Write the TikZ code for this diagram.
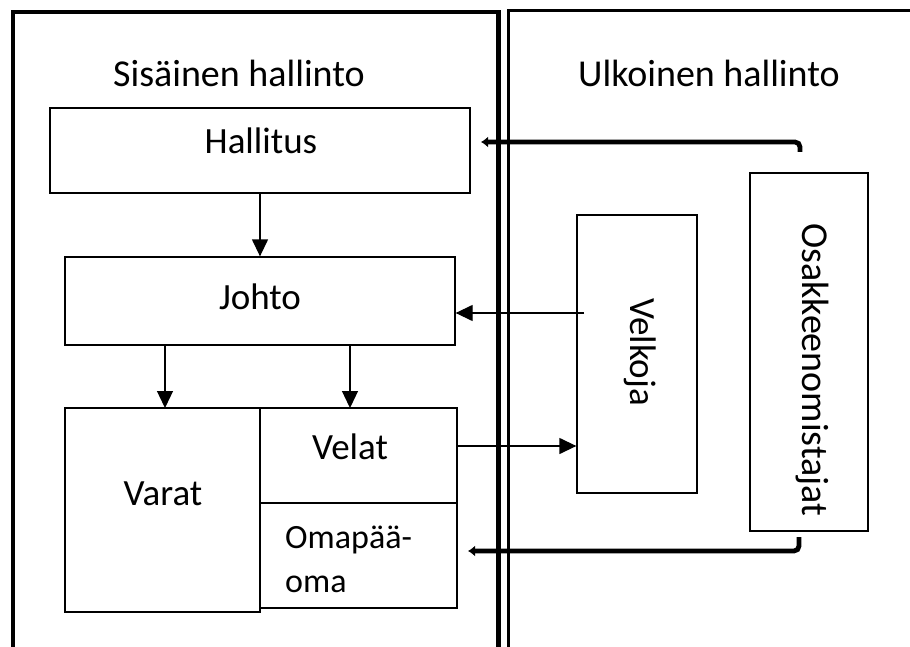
\documentclass[tikz,border=0pt]{standalone}
\usepackage{fontspec}
\setmainfont{Carlito}
\usetikzlibrary{arrows.meta}
\tikzset{
  box/.style={draw=black,line width=1.3pt,inner sep=0pt},
  lbl/.style={font=\fontsize{37}{44}\selectfont,inner sep=0pt,anchor=base},
  thin/.style={line width=1.3pt,-{Triangle[length=17pt,width=16pt]}},
  fat/.style={line width=4.8pt,rounded corners=5pt,-{Latex[length=7pt,width=11pt]}},
}
\begin{document}
\begin{tikzpicture}[x=1pt,y=-1pt]
\useasboundingbox (0,0) rectangle (910,647);
% frames
\draw[line width=4.5pt] (13,660) -- (13,12) -- (498.5,12) -- (498.5,660);
\draw[line width=3pt] (508.5,660) -- (508.5,11) -- (915,11);
% headings
\node[lbl,font=\fontsize{38}{44}\selectfont] (sis) at (239,87) {Sisäinen hallinto};
\node[lbl,font=\fontsize{38}{44}\selectfont] (ulk) at (709,87) {Ulkoinen hallinto};
% boxes
\node[box,minimum width=420pt,minimum height=85pt] (hal) at (260,150.5) {};
\node[lbl] at (261,154) {Hallitus};
\node[box,minimum width=390pt,minimum height=88pt] (joh) at (260,301) {};
\node[lbl] at (260,309) {Johto};
\node[box,minimum width=195pt,minimum height=204pt] (var) at (162.5,510) {};
\node[lbl] at (163,505) {Varat};
\node[box,minimum width=197pt,minimum height=95pt] (vel) at (358.5,455.5) {};
\node[lbl] at (350,459) {Velat};
\node[box,minimum width=197pt,minimum height=105pt] (oma) at (358.5,555.5) {};
\node[lbl,anchor=base west,font=\fontsize{34}{44}\selectfont,align=left] (omat) at (285,548) {Omapää-};
\node[lbl,anchor=base west,font=\fontsize{34}{44}\selectfont] (omat2) at (285,592) {oma};
\node[box,minimum width=120pt,minimum height=278pt] (velk) at (637,354) {};
\node[lbl,anchor=center,rotate=-90] at (640,352) {Velkoja};
\node[box,minimum width=118pt,minimum height=358pt] (osa) at (809,352) {};
\node[lbl,anchor=center,rotate=-90,font=\fontsize{38}{44}\selectfont] at (812,370) {Osakkeenomistajat};
% connectors
\draw[thin] (hal.south) -- (joh.north);
\draw[thin] (165,345) -- (165,408);
\draw[thin] (350,345) -- (350,408);
\coordinate (vs) at (584,313);
\draw[thin] (vs) -- (joh.east |- vs);
\draw[thin] (vel.east |- 0,446) -- (velk.west |- 0,446);
\coordinate (o1) at (800,152);
\coordinate (h1) at (481,142);
\draw[fat] (o1) -- (800,142) -- (h1);
\coordinate (o2) at (799,537);
\coordinate (m1) at (468,551);
\draw[fat] (o2) -- (799,551) -- (m1);
\end{tikzpicture}
\end{document}
